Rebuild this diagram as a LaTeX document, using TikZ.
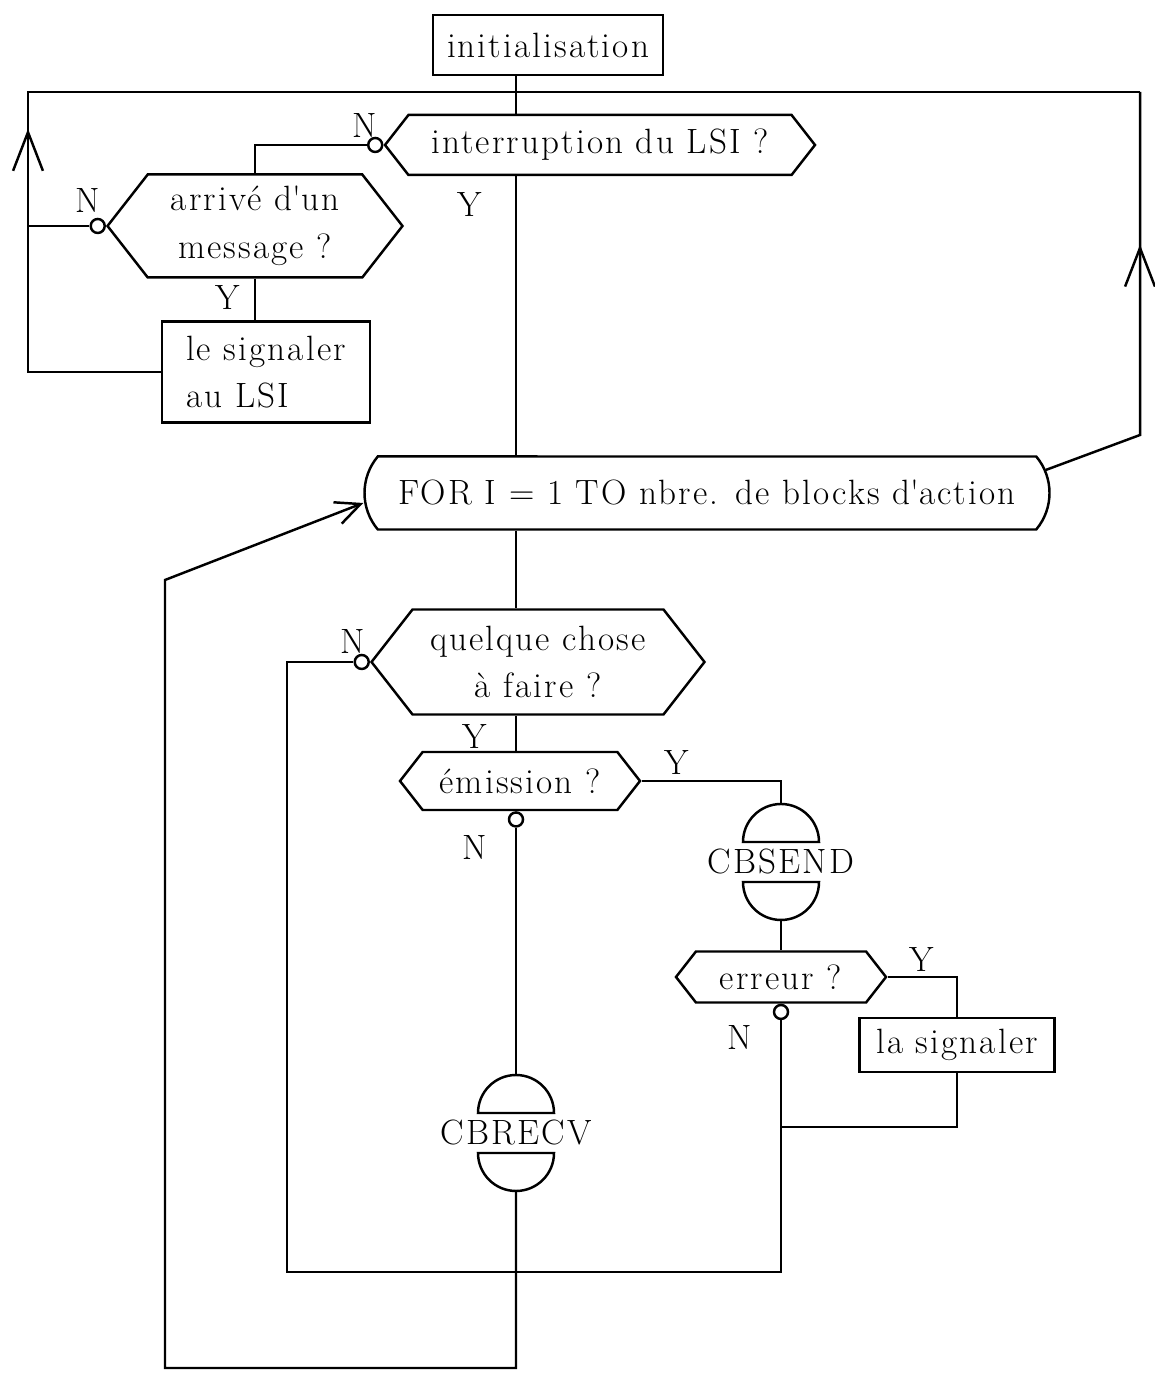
\documentclass[tikz,border=0pt]{standalone}
\usepackage{fontspec}
\setmainfont{Latin Modern Roman}[LetterSpace=6]
\usepackage{tikz}
\usetikzlibrary{arrows.meta, calc, positioning, shapes.symbols, shapes.misc, decorations.markings}

\begin{document}
\begin{tikzpicture}[line width=1.4pt, font=\fontsize{20}{27}\selectfont,
  box/.style={draw, rectangle, fill=white, inner sep=0pt},
  hexa/.style={draw, signal, signal to=west and east, signal pointer angle=104, fill=white, inner sep=0pt, align=center},
  forbox/.style={draw, rounded rectangle, rounded rectangle arc length=80, fill=white, inner sep=0pt},
  ncirc/.style={draw, circle, fill=white, inner sep=0pt, minimum size=0.28cm},
  lbl/.style={inner sep=0pt},
  uparrow/.style={decoration={markings, mark=at position #1 with {\arrow{Straight Barb[length=22pt, width=17pt]}}}, postaction={decorate}}]
  \useasboundingbox (0,0) rectangle (23.08,27.52);
  \coordinate (spine) at (10.32,0);
  \coordinate (lt) at (0.56,25.68);
  \coordinate (rt) at (22.8,25.68);
  \coordinate (rb) at (22.8,18.82);
  \coordinate (bl) at (5.74,2.08);
  \coordinate (br) at (15.62,2.08);
  \coordinate (jn) at (15.62,4.98);
  \coordinate (rb2) at (10.32,0.16);
  \coordinate (lb2) at (3.3,0.16);
  \coordinate (lm) at (3.3,15.92);

  % boxes and decisions
  \node[box, minimum width=4.6cm, minimum height=1.2cm] (init) at (10.96,26.62) {initialisation};
  \node[hexa, minimum width=8.6cm, minimum height=1.2cm] (interr) at (12.0,24.62) {interruption du LSI ?};
  \node[hexa, minimum width=5.9cm, minimum height=2.06cm] (arrive) at (5.10,23.0) {arrivé d\textquotesingle un\\message ?};
  \node[box, minimum width=4.16cm, minimum height=2.02cm, align=left] (lsig) at (5.32,20.08) {le signaler\\au LSI};
  \node[forbox, minimum width=13.7cm, minimum height=1.46cm] (forn) at (14.14,17.66) {FOR I = 1 TO nbre. de blocks d\textquotesingle action};
  \node[hexa, minimum width=6.66cm, minimum height=2.1cm] (quel) at (10.76,14.28) {quelque chose\\à faire ?};
  \node[hexa, minimum width=4.8cm, minimum height=1.16cm] (emis) at (10.4,11.9) {émission ?};
  \node[lbl] (send) at (15.62,10.28) {CBSEND};
  \node[hexa, minimum width=4.2cm, minimum height=1.02cm] (erreur) at (15.62,7.98) {erreur ?};
  \node[box, minimum width=3.9cm, minimum height=1.08cm] (lasig) at (19.14,6.62) {la signaler};
  \node[lbl] (recv) at (10.32,4.86) {CBRECV};

  % half discs round the calls
  \draw ([yshift=0.4cm]send.center) ++(-0.76,0) arc[start angle=180, end angle=0, radius=0.76cm] -- cycle;
  \draw ([yshift=-0.4cm]send.center) ++(-0.76,0) arc[start angle=180, end angle=360, radius=0.76cm] -- cycle;
  \draw ([yshift=0.4cm]recv.center) ++(-0.76,0) arc[start angle=180, end angle=0, radius=0.76cm] -- cycle;
  \draw ([yshift=-0.4cm]recv.center) ++(-0.76,0) arc[start angle=180, end angle=360, radius=0.76cm] -- cycle;
  \coordinate (send top) at ([yshift=1.16cm]send.center);
  \coordinate (send bot) at ([yshift=-1.16cm]send.center);
  \coordinate (recv top) at ([yshift=1.16cm]recv.center);
  \coordinate (recv bot) at ([yshift=-1.16cm]recv.center);

  % N outputs
  \node[ncirc, anchor=east] (c1) at (interr.west) {};
  \node[ncirc, anchor=east] (c2) at (arrive.west) {};
  \node[ncirc, anchor=east] (c3) at (quel.west) {};
  \node[ncirc, anchor=north] (c5) at (emis.south -| spine) {};
  \node[ncirc, anchor=north] (c4) at (erreur.south) {};

  % main line
  \draw (init.south -| spine) -- (interr.north -| spine);
  \draw (interr.south -| spine) -- (forn.north -| spine);
  \draw (forn.south -| spine) -- (quel.north -| spine);
  \draw (quel.south -| spine) -- (emis.north -| spine);
  \draw (c5.south) -- (recv top);
  \draw[-{Straight Barb[length=14pt, width=13pt]}] (recv bot) -- (rb2) -- (lb2) -- (lm) -- ([yshift=-0.2cm]forn.west);

  % loops back to the top
  \draw[uparrow=7.52cm] (lsig.west) -| (lt) -- (rt);
  \draw[uparrow=5.82cm] ([shift={(-0.1,0.46)}]forn.east) -- (rb) -- (rt);
  \draw (c1.west) -| (arrive.north);
  \draw (c2.west) -- (c2.west -| lt);
  \draw (arrive.south) -- (arrive.south |- lsig.north);

  % inside the FOR
  \draw (c3.west) -| (bl) -- (br) -- (c4.south);
  \draw (emis.east) -| (send top);
  \draw (send bot) -- (erreur.north);
  \draw (erreur.east) -| (lasig.north);
  \draw (lasig.south) |- (jn);

  % labels
  \node[lbl] (n1) at (7.3,25.0) {N};
  \node[lbl] (y1) at (9.4,23.42) {Y};
  \node[lbl] (n2) at (1.76,23.5) {N};
  \node[lbl] (y2) at (4.56,21.56) {Y};
  \node[lbl] (n3) at (7.06,14.68) {N};
  \node[lbl] (y3) at (9.5,12.78) {Y};
  \node[lbl] (y4) at (13.54,12.26) {Y};
  \node[lbl] (n5) at (9.5,10.56) {N};
  \node[lbl] (y6) at (18.44,8.32) {Y};
  \node[lbl] (n7) at (14.8,6.76) {N};
\end{tikzpicture}
\end{document}
